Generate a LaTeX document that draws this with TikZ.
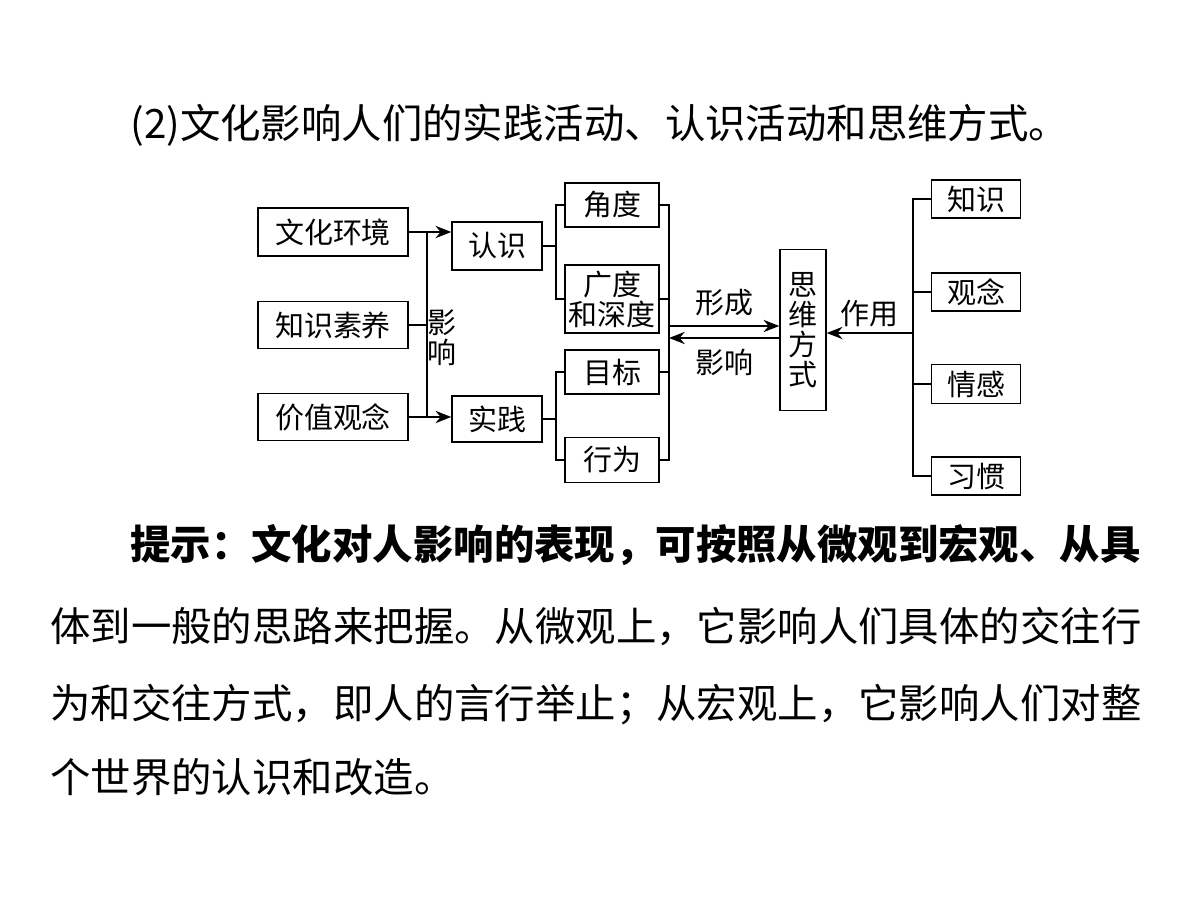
\documentclass[tikz,border=0pt]{standalone}
\usepackage{fontspec}
\setmainfont{Noto Sans CJK SC}
\usetikzlibrary{arrows.meta}
\begin{document}
\begin{tikzpicture}[x=0.02cm,y=-0.02cm,
  box/.style={draw,line width=0.8pt,inner sep=0pt,font=\fontsize{16.5}{17}\selectfont},
  txt/.style={anchor=west,inner sep=0pt,font=\fontsize{23}{24}\selectfont},
  lbl/.style={inner sep=0pt,font=\fontsize{16.5}{17}\selectfont},
  arr/.style={-{Stealth[length=9pt,width=7pt]}}]
  \useasboundingbox (0,0) rectangle (1200,911);
  % text around the diagram
  \node[txt] (title) at (130,125) {(2)文化影响人们的实践活动、认识活动和思维方式。};
  \node[txt,font=\fontsize{23}{24}\selectfont\bfseries] (hint1) at (130,545) {提示：文化对人影响的表现，可按照从微观到宏观、从具};
  \node[txt] (hint2) at (50,627) {体到一般的思路来把握。从微观上，它影响人们具体的交往行};
  \node[txt] (hint3) at (50,705) {为和交往方式，即人的言行举止；从宏观上，它影响人们对整};
  \node[txt] (hint4) at (50,777) {个世界的认识和改造。};
  % left column
  \node[box,minimum width=3cm,minimum height=0.96cm] (env) at (333,232) {文化环境};
  \node[box,minimum width=3cm,minimum height=0.94cm] (know) at (333,325) {知识素养};
  \node[box,minimum width=3cm,minimum height=0.94cm] (value) at (333,417) {价值观念};
  \node[box,minimum width=1.8cm,minimum height=0.96cm] (ren) at (497,246) {认识};
  \node[box,minimum width=1.8cm,minimum height=0.92cm] (shijian) at (497,419) {实践};
  % middle column
  \node[box,minimum width=1.88cm,minimum height=0.88cm] (jiaodu) at (612,205) {角度};
  \node[box,minimum width=1.88cm,minimum height=1.36cm,align=center] (guangdu) at (612,299) {广度\\和深度};
  \node[box,minimum width=1.88cm,minimum height=0.88cm] (mubiao) at (612,372) {目标};
  \node[box,minimum width=1.88cm,minimum height=0.9cm] (xingwei) at (612,460) {行为};
  \node[box,minimum width=0.92cm,minimum height=3.22cm,align=center] (siwei) at (803,330) {思\\维\\方\\式};
  % right column
  \node[box,minimum width=1.78cm,minimum height=0.76cm] (zhishi) at (976,199) {知识};
  \node[box,minimum width=1.78cm,minimum height=0.76cm] (guannian) at (976,292) {观念};
  \node[box,minimum width=1.78cm,minimum height=0.78cm] (qinggan) at (976,384) {情感};
  \node[box,minimum width=1.78cm,minimum height=0.76cm] (xiguan) at (976,476) {习惯};
  % connectors
  \coordinate (lbar) at (427,0);
  \coordinate (mbar) at (556,0);
  \coordinate (rbar) at (669,0);
  \coordinate (zbar) at (913,0);
  \draw[line width=0.8pt] (env.east) -- (env.east -| lbar) -- (value.east -| lbar) -- (value.east);
  \draw[line width=0.8pt] (know.east) -- (know.east -| lbar);
  \draw[line width=0.8pt,arr] (env.east -| lbar) -- (env.east -| ren.west);
  \draw[line width=0.8pt,arr] (value.east -| lbar) -- (value.east -| shijian.west);
  \node[lbl,align=center] (yx1) at (442,338) {影\\响};
  \draw[line width=0.8pt] (ren.east) -- (ren.east -| mbar);
  \draw[line width=0.8pt] (jiaodu.west) -- (jiaodu.west -| mbar) -- (guangdu.west -| mbar) -- (guangdu.west);
  \draw[line width=0.8pt] (shijian.east) -- (shijian.east -| mbar);
  \draw[line width=0.8pt] (mubiao.west) -- (mubiao.west -| mbar) -- (xingwei.west -| mbar) -- (xingwei.west);
  \draw[line width=0.8pt] (jiaodu.east) -- (jiaodu.east -| rbar) -- (xingwei.east -| rbar) -- (xingwei.east);
  \draw[line width=0.8pt] (guangdu.east) -- (guangdu.east -| rbar);
  \draw[line width=0.8pt] (mubiao.east) -- (mubiao.east -| rbar);
  \coordinate (xc) at (669,326);
  \coordinate (yc) at (669,338);
  \draw[line width=0.8pt,arr] (xc) -- (xc -| siwei.west) node[lbl,midway,above=5pt] (xc-l) {形成};
  \draw[line width=0.8pt,arr] (yc -| siwei.west) -- (yc) node[lbl,midway,below=6pt] (yc-l) {影响};
  \draw[line width=0.8pt] (zhishi.west) -- (zhishi.west -| zbar) -- (xiguan.west -| zbar) -- (xiguan.west);
  \draw[line width=0.8pt] (guannian.west) -- (guannian.west -| zbar);
  \draw[line width=0.8pt] (qinggan.west) -- (qinggan.west -| zbar);
  \coordinate (zy) at (913,333);
  \draw[line width=0.8pt,arr] (zy) -- (zy -| siwei.east) node[lbl,midway,above=3pt] (zy-l) {作用};
\end{tikzpicture}
\end{document}
